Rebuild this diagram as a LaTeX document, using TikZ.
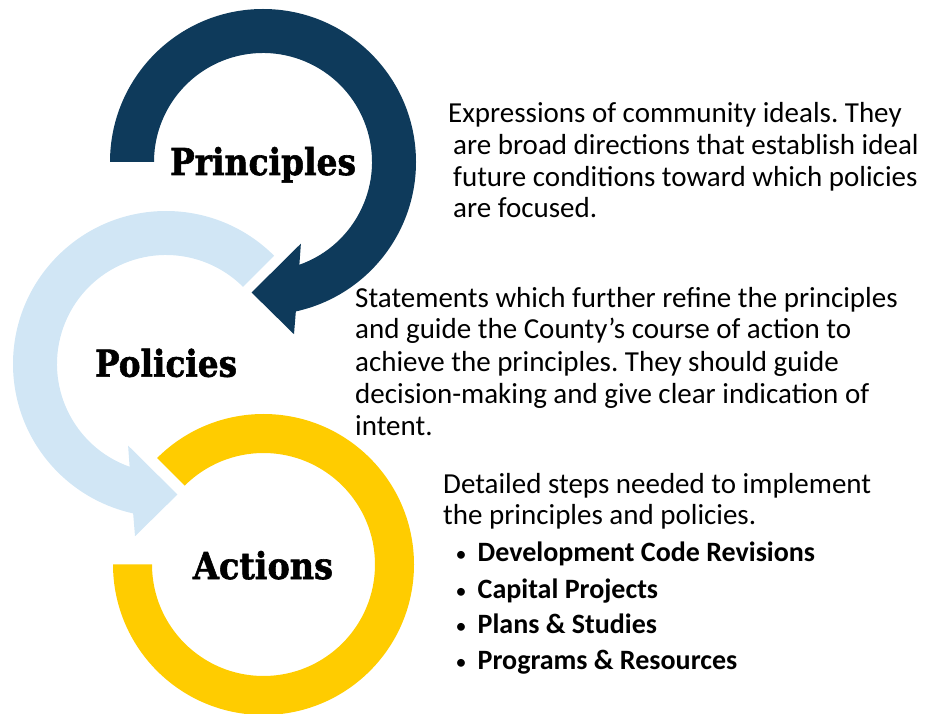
\documentclass[tikz,border=0pt]{standalone}
\usepackage{fontspec}
\setmainfont{Carlito}
\newfontfamily\slab{DejaVu Serif}[BoldFeatures={FakeBold=1.6}]
\definecolor{navy}{HTML}{0E3A5B}
\definecolor{lblue}{HTML}{D1E6F5}
\definecolor{gold}{HTML}{FFCC00}
\newsavebox\hdbox
\newcommand\fitw[2]{\sbox\hdbox{#2}\pgfmathsetmacro\hdr{#1/\the\wd\hdbox}\scalebox{\hdr}[1]{\usebox\hdbox}}
\frenchspacing
\begin{document}
\begin{tikzpicture}[x=1pt,y=1pt,
  body/.style={anchor=base west, inner sep=0pt, font=\fontsize{29}{32}\selectfont, text=black},
  bold/.style={body, font=\fontsize{28}{32}\selectfont\bfseries},
  bul/.style={anchor=base, inner sep=0pt, font=\fontsize{22}{32}\selectfont},
  head/.style={anchor=base, inner sep=0pt, font=\slab\bfseries\fontsize{37}{40}\selectfont, text=black}]
\useasboundingbox (0,0) rectangle (927,713);
\clip (0,0) rectangle (927,713);
% yellow ring
\begin{scope}[shift={(263.5,148.5)}]
\fill[gold] (135:150.5) arc[start angle=135,end angle=-180,radius=150.5]
  -- (180:111.5) arc[start angle=-180,end angle=135,radius=111.5] -- cycle;
\end{scope}
% light blue arrow
\begin{scope}[shift={(166,349)}]
\fill[lblue] (45:153) arc[start angle=45,end angle=257.6,radius=153]
  -- (259.8:175) -- (275:131) -- (245.1:90) -- (250.5:109)
  arc[start angle=250.5,end angle=45,radius=109] -- cycle;
\end{scope}
% dark blue arrow
\begin{scope}[shift={(263,551)}]
\fill[navy] (180:153) arc[start angle=180,end angle=-77.6,radius=153]
  -- (-79.8:175) -- (-95:131) -- (-65.1:90) -- (-70.5:109)
  arc[start angle=-70.5,end angle=180,radius=109] -- cycle;
\end{scope}
% headings
\node[head] (prin) at (263,538) {\fitw{186}{Principles}};
\node[head] (poli) at (166,336.3) {\fitw{142}{Policies}};
\node[head] (acti) at (263,134) {\fitw{140}{Actions}};
% block 1
\node[body] (a1) at (448,590.5) {Expressions of community ideals. They};
\node[body] (a2) at (453,558.7) {are broad directions that establish ideal};
\node[body] (a3) at (453,526.8) {future conditions toward which policies};
\node[body] (a4) at (453,495) {are focused.};
% block 2
\node[body] (b1) at (355,405.7) {Statements which further refine the principles};
\node[body] (b2) at (355,374) {and guide the County’s course of action to};
\node[body] (b3) at (355,341.3) {achieve the principles. They should guide};
\node[body] (b4) at (355,309.7) {decision-making and give clear indication of};
\node[body] (b5) at (355,277.3) {intent.};
% block 3
\node[body] (c1) at (443,219.7) {Detailed steps needed to implement};
\node[body] (c2) at (443,188.5) {the principles and policies.};
\node[bul] (d1b) at (461,151) {•};
\node[bold] (d1) at (477.5,151) {Development Code Revisions};
\node[bul] (d2b) at (461,115) {•};
\node[bold] (d2) at (477.5,115) {Capital Projects};
\node[bul] (d3b) at (461,79.5) {•};
\node[bold] (d3) at (477.5,79.5) {Plans \& Studies};
\node[bul] (d4b) at (461,43.7) {•};
\node[bold] (d4) at (477.5,43.7) {Programs \& Resources};
\end{tikzpicture}
\end{document}
